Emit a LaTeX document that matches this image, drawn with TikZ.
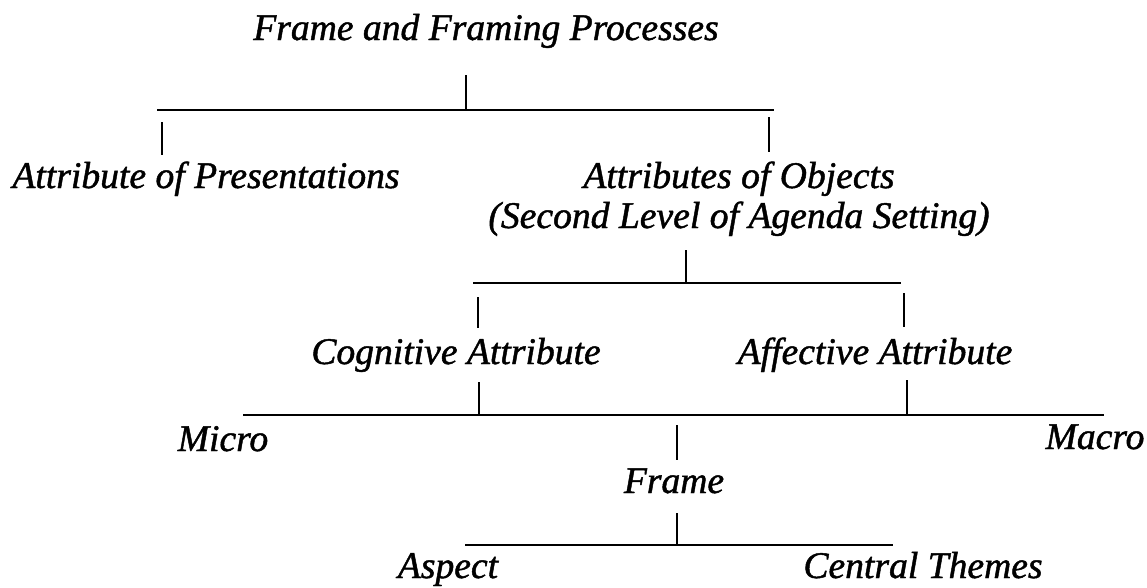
\documentclass[tikz,border=0pt]{standalone}
\usepackage{fontspec}
\setmainfont{Liberation Serif}[ItalicFeatures={FakeBold=1.2}]
\begin{document}
\begin{tikzpicture}[x=1pt,y=-1pt,
  lbl/.style={font=\fontsize{37.6}{40}\selectfont\itshape, inner sep=0pt, anchor=base},
  link/.style={line width=2pt, line cap=butt}]
\useasboundingbox (0,0) rectangle (1147,587);
% labels
\node[lbl] (root) at (486,40) {Frame and Framing Processes};
\node[lbl] (pres) at (206,188) {Attribute of Presentations};
\node[lbl, align=center] (obj) at (739,228) {Attributes of Objects\\(Second Level of Agenda Setting)};
\node[lbl] (cog) at (456,364) {Cognitive Attribute};
\node[lbl] (aff) at (875,364) {Affective Attribute};
\node[lbl] (micro) at (223,451) {Micro};
\node[lbl] (macro) at (1095,449) {Macro};
\node[lbl] (frame) at (674,493) {Frame};
\node[lbl] (aspect) at (448,578) {Aspect};
\node[lbl] (themes) at (923,578) {Central Themes};
% level 1
\coordinate (rS) at (466,75);  \coordinate (rJ) at (466,110);
\coordinate (rL) at (157,110); \coordinate (rR) at (774,110);
\coordinate (pT) at (162,122); \coordinate (pB) at (162,155);
\coordinate (oT) at (769,117); \coordinate (oB) at (769,152);
\draw[link] (rS) -- (rJ);
\draw[link] (rL) -- (rR);
\draw[link] (pT) -- (pB);
\draw[link] (oT) -- (oB);
% level 2
\coordinate (sS) at (686,250); \coordinate (sJ) at (686,283);
\coordinate (sL) at (473,283); \coordinate (sR) at (901,283);
\coordinate (cT) at (478,297); \coordinate (cB) at (478,328);
\coordinate (aT) at (904,293); \coordinate (aB) at (904,327);
\draw[link] (sS) -- (sJ);
\draw[link] (sL) -- (sR);
\draw[link] (cT) -- (cB);
\draw[link] (aT) -- (aB);
% level 3
\coordinate (c2T) at (479,382); \coordinate (c2B) at (479,415);
\coordinate (a2T) at (907,380); \coordinate (a2B) at (907,415);
\coordinate (mL) at (243,415);  \coordinate (mR) at (1104,415);
\coordinate (fT) at (677,425);  \coordinate (fB) at (677,460);
\draw[link] (c2T) -- (c2B);
\draw[link] (a2T) -- (a2B);
\draw[link] (mL) -- (mR);
\draw[link] (fT) -- (fB);
% level 4
\coordinate (gS) at (677,513); \coordinate (gJ) at (677,545);
\coordinate (gL) at (465,545); \coordinate (gR) at (893,545);
\draw[link] (gS) -- (gJ);
\draw[link] (gL) -- (gR);
\end{tikzpicture}
\end{document}
